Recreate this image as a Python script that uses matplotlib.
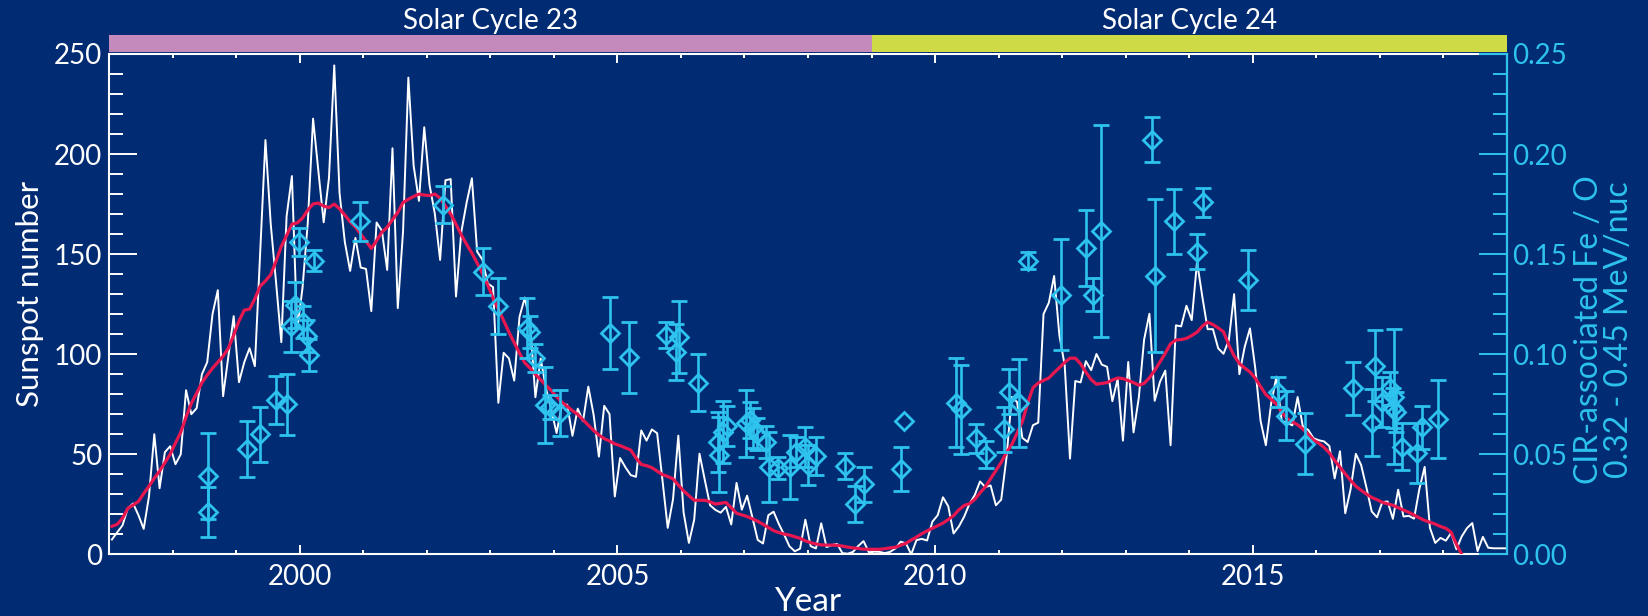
import numpy as np
import matplotlib
matplotlib.use("Agg")
import matplotlib.pyplot as plt
from matplotlib.patches import Rectangle
from matplotlib.ticker import MultipleLocator

plt.rcParams['font.family'] = ['Lato', 'DejaVu Sans']

# monthly sunspot number, Jan 1997 .. Jan 2019
ssn = [7.4, 11.0, 14.5, 23.0, 25.4, 19.6, 12.7, 29.0, 60.0, 33.0, 51.0, 54.0,
       45.0, 50.0, 82.0, 70.0, 73.0, 90.0, 96.0, 120.0, 132.0, 79.0, 99.0, 119.0,
       86.0, 96.0, 103.0, 94.0, 150.0, 207.0, 165.0, 136.0, 106.0, 169.0, 189.0, 112.0,
       133.1, 165.7, 217.7, 191.5, 165.9, 188.0, 244.3, 180.5, 156.0, 141.6, 158.1, 143.3,
       142.6, 121.5, 165.8, 161.7, 142.1, 202.9, 123.0, 161.5, 238.2, 194.1, 176.6, 213.4,
       184.6, 170.2, 147.1, 186.9, 187.5, 128.8, 161.0, 175.6, 187.9, 151.2, 147.2, 135.3,
       133.5, 75.7, 100.7, 97.9, 86.8, 118.7, 128.3, 115.4, 78.5, 97.8, 82.9, 72.2,
       60.6, 74.6, 74.8, 59.2, 72.8, 66.5, 83.8, 69.7, 48.8, 74.2, 70.1, 28.9,
       48.1, 43.5, 39.6, 38.7, 61.9, 56.8, 62.4, 60.5, 37.2, 13.2, 27.5, 59.3,
       20.9, 5.7, 17.3, 50.3, 37.2, 24.5, 22.2, 20.8, 23.7, 14.9, 35.7, 22.3,
       29.3, 18.4, 7.2, 5.4, 19.5, 21.3, 15.1, 9.8, 4.0, 1.5, 2.8, 17.3,
       4.1, 2.9, 15.5, 3.6, 4.6, 5.2, 0.6, 0.3, 1.2, 4.2, 6.6, 1.0,
       1.3, 1.2, 0.6, 1.2, 2.9, 6.3, 5.5, 0.0, 7.1, 7.7, 6.9, 16.3,
       19.5, 28.5, 24.0, 10.4, 13.9, 18.8, 25.2, 29.6, 36.4, 33.6, 34.4, 24.5,
       27.3, 48.3, 78.6, 76.1, 58.2, 56.1, 64.5, 65.8, 120.1, 125.7, 139.1, 109.3,
       94.4, 47.8, 86.6, 85.9, 96.5, 92.0, 100.1, 94.8, 93.7, 76.5, 87.6, 56.8,
       96.1, 60.9, 78.3, 107.3, 120.2, 76.7, 86.2, 91.8, 54.5, 114.4, 113.9, 124.2,
       117.0, 146.1, 128.7, 112.5, 112.5, 102.9, 100.2, 106.9, 130.0, 90.0, 103.6, 112.9,
       93.0, 66.7, 54.5, 75.3, 88.8, 66.5, 65.8, 64.4, 78.6, 63.6, 62.2, 58.0,
       57.0, 56.4, 54.1, 37.9, 51.5, 20.5, 32.4, 50.2, 44.6, 33.4, 21.4, 18.5,
       26.1, 26.4, 17.7, 32.3, 18.9, 19.2, 17.8, 32.6, 43.7, 13.2, 5.7, 8.2,
       6.8, 10.7, 2.5, 8.9, 13.1, 15.6, 1.6, 8.7, 3.3, 3.0, 3.0, 3.0,
       3.0]

# smoothed sunspot number, Jan 1997 .. Apr 2018
ssn_smooth = [14, 15, 18, 23, 24.6, 26.4, 30.4, 34, 38, 41.6, 45.8, 50,
              55.6, 61, 68.6, 75.4, 80.5, 85.8, 89.5, 93, 96, 99, 103, 109.5,
              116.6, 122, 122.5, 127.7, 134, 136.6, 139.7, 146.5, 153.9, 159.3, 165, 165.6,
              168, 172, 175.1, 175.5, 174, 173.3, 175, 172.6, 169.5, 166.2, 163.5, 160,
              156.5, 152.8, 156.7, 161, 163.4, 167.2, 170.8, 175.8, 177.4, 178.8, 180, 179.5,
              179.3, 180, 178, 174, 170, 165, 159.6, 154.9, 150.5, 145.5, 140.3, 134.5,
              128, 122.6, 116.8, 111, 105.7, 100.5, 95.7, 93, 89.9, 87.2, 84.4, 81.8,
              78.8, 76, 73.9, 71.8, 69.9, 67.2, 64.5, 61.9, 59.6, 57.8, 56.6, 55.2,
              54.3, 53.2, 52.1, 48.2, 44.9, 44.3, 43.3, 41.6, 39.8, 38.9, 37.7, 34.6,
              31.7, 29.3, 27, 27, 27, 26.2, 25.1, 25.5, 25.9, 23.3, 20.5, 19.7,
              18.9, 17.7, 16.5, 15, 13.4, 11.8, 10.9, 10.1, 9.6, 8.8, 8, 6.7,
              5.8, 5.2, 4.7, 4.6, 4.6, 4.5, 4.1, 3.6, 3.2, 2.9, 2.6, 2.5,
              2.5, 2.5, 2.8, 3.2, 3.5, 4.5, 5.5, 7.1, 8.6, 10.3, 11.7, 13,
              14.3, 15.6, 17.4, 19.3, 22.2, 24.4, 25.3, 27.4, 30.7, 33.7, 37.8, 41.9,
              45.9, 50.9, 54.8, 60.6, 66.3, 75.5, 83.2, 85.6, 86.9, 88.1, 90.8, 93.3,
              95.9, 98, 98, 95.2, 91, 87.3, 85, 85.4, 85.8, 87.1, 88.1, 87.8,
              86.8, 85.8, 84.5, 85.4, 88.2, 91.9, 96.1, 100.5, 105.2, 107.1, 107.3, 107.9,
              109.3, 111, 114, 116, 114.8, 113.1, 111.2, 104.6, 99.2, 95.3, 93.1, 91.1,
              88, 83.8, 79.8, 77.5, 75, 71.1, 67.8, 66.2, 64.7, 62.6, 60, 57.1,
              55.5, 53.4, 50.7, 46.9, 43.5, 40.2, 37, 34, 32, 30.1, 28.4, 27.3,
              26, 25.2, 24.5, 23.3, 22.1, 21, 19.6, 18.2, 16.9, 16, 15.1, 13.9,
              13, 11, 5, 0]

# CIR-associated Fe/O
fe_year = [1998.55, 1998.55, 1999.17, 1999.38, 1999.63, 1999.79, 1999.86, 1999.92,
           1999.99, 2000.05, 2000.11, 2000.14, 2000.22, 2000.94, 2002.25, 2002.89,
           2003.12, 2003.57, 2003.62, 2003.70, 2003.86, 2003.94, 2004.10, 2004.89,
           2005.18, 2005.77, 2005.92, 2005.97, 2006.27, 2006.58, 2006.60, 2006.66,
           2006.72, 2007.03, 2007.08, 2007.14, 2007.20, 2007.34, 2007.39, 2007.52,
           2007.71, 2007.81, 2007.96, 2008.00, 2008.12, 2008.59, 2008.74, 2008.88,
           2009.51, 2009.47, 2010.33, 2010.41, 2010.64, 2010.80, 2011.09, 2011.16,
           2011.32, 2011.47, 2011.98, 2012.37, 2012.48, 2012.62, 2013.42, 2013.46,
           2013.77, 2014.13, 2014.22, 2014.93, 2015.40, 2015.52, 2015.83, 2016.58,
           2016.88, 2016.92, 2017.04, 2017.17, 2017.21, 2017.23, 2017.25, 2017.35,
           2017.59, 2017.66, 2017.92]
fe_o = [0.039, 0.021, 0.0525, 0.060, 0.077, 0.075, 0.114, 0.1247,
        0.1563, 0.1163, 0.109, 0.0997, 0.1467, 0.1663, 0.1747, 0.1413,
        0.1243, 0.113, 0.111, 0.098, 0.0747, 0.0737, 0.0705, 0.1105,
        0.0985, 0.1097, 0.1013, 0.1088, 0.0858, 0.0563, 0.0497, 0.0613,
        0.064, 0.0655, 0.067, 0.063, 0.060, 0.0563, 0.0438, 0.043,
        0.0438, 0.0513, 0.0538, 0.0447, 0.0492, 0.0442, 0.0252, 0.035,
        0.0668, 0.0425, 0.0758, 0.0725, 0.058, 0.0497, 0.0625, 0.0813,
        0.0755, 0.1467, 0.1297, 0.153, 0.1297, 0.1617, 0.2072, 0.1392,
        0.1663, 0.1513, 0.1758, 0.1372, 0.0813, 0.0692, 0.0552, 0.083,
        0.0658, 0.0942, 0.0763, 0.083, 0.073, 0.0788, 0.0713, 0.0538,
        0.0505, 0.0635, 0.0675]
fe_err = [0.0215, 0.0125, 0.014, 0.0137, 0.012, 0.0152, 0.0128, 0.0116,
          0.007, 0.008, 0.008, 0.008, 0.0053, 0.0098, 0.0092, 0.0118,
          0.014, 0.015, 0.008, 0.0071, 0.019, 0.006, 0.0115, 0.018,
          0.0177, 0.0064, 0.014, 0.018, 0.0144, 0.015, 0.0187, 0.0155,
          0.010, 0.0167, 0.009, 0.010, 0.008, 0.008, 0.0175, 0.0055,
          0.016, 0.0075, 0.010, 0.010, 0.0094, 0.0065, 0.009, 0.0087,
          np.nan, 0.011, 0.0222, 0.0222, 0.0072, 0.0067, 0.0112, 0.0112,
          0.022, 0.0043, 0.0277, 0.0188, 0.0083, 0.053, 0.0113, 0.0383,
          0.0163, 0.0086, 0.0073, 0.015, 0.0075, 0.0123, 0.0152, 0.0133,
          0.0167, 0.0177, 0.0125, 0.0083, 0.010, 0.0337, 0.010, 0.0117,
          0.015, 0.0107, 0.0195]

cycle_edges = [1997, 2009, 2019]
cycle_names = ["Solar Cycle 23", "Solar Cycle 24"]

bg = '#012b72'
cyan = '#2dc3ee'
red = '#e8174f'
band_cols = ['#c58abc', '#cfdb46']

fig = plt.figure(figsize=(16.49, 6.16), dpi=100, facecolor=bg)
ax = fig.add_axes([0.06628, 0.10016, 0.84742, 0.81218])
ax.set_facecolor(bg)

t_ssn = 1997 + (np.arange(len(ssn)) + 0.5) / 12
t_sm = 1997 + (np.arange(len(ssn_smooth)) + 0.5) / 12
ax.plot(t_ssn, ssn, color='white', lw=1.4, zorder=2)
ax.plot(t_sm, ssn_smooth, color=red, lw=2.3, zorder=3)

ax.set_xlim(1997, 2019)
ax.set_ylim(0, 250)
ax.xaxis.set_major_locator(MultipleLocator(5))
ax.xaxis.set_minor_locator(MultipleLocator(1))
ax.yaxis.set_major_locator(MultipleLocator(50))
ax.yaxis.set_minor_locator(MultipleLocator(10))
ax.tick_params(axis='x', which='both', direction='in', top=True, colors='white',
               labelsize=20, pad=7, width=1.4)
ax.tick_params(axis='x', which='major', length=6.5)
ax.tick_params(axis='x', which='minor', length=3.2)
ax.tick_params(axis='y', which='both', direction='in', right=False, colors='white',
               labelsize=20, pad=5, width=1.4)
ax.tick_params(axis='y', which='major', length=20)
ax.tick_params(axis='y', which='minor', length=10)
for s in ax.spines.values():
    s.set_color('white')
    s.set_linewidth(1.5)
ax.set_xlabel("Year", color='white', fontsize=24, labelpad=-2)
ax.set_ylabel("Sunspot number", color='white', fontsize=22.5)
ax.yaxis.set_label_coords(-0.047, 0.52)

# solar cycle bands above the plot
for i, name in enumerate(cycle_names):
    x0, x1 = cycle_edges[i], cycle_edges[i + 1]
    ax.add_patch(Rectangle((x0, 1.004), x1 - x0, 0.034, transform=ax.get_xaxis_transform(),
                           facecolor=band_cols[i], edgecolor='none', clip_on=False))
    ax.text((x0 + x1) / 2, 1.066, name, transform=ax.get_xaxis_transform(),
            ha='center', va='center', color='white', fontsize=20)

ax2 = ax.twinx()
ax2.errorbar(fe_year, fe_o, yerr=fe_err, fmt='D', ms=9.5, mfc='none', mec=cyan, mew=2.0,
             ecolor=cyan, elinewidth=1.9, capsize=5.5, capthick=1.9, color=cyan, zorder=4)
ax2.set_ylim(0, 0.25)
ax2.yaxis.set_major_locator(MultipleLocator(0.05))
ax2.yaxis.set_minor_locator(MultipleLocator(0.01))
ax2.yaxis.set_major_formatter(matplotlib.ticker.FormatStrFormatter('%.2f'))
ax2.tick_params(axis='y', which='both', direction='in', colors=cyan, labelsize=20,
                pad=4, width=1.4)
ax2.tick_params(axis='y', which='major', length=20)
ax2.tick_params(axis='y', which='minor', length=10)
for k, s in ax2.spines.items():
    s.set_visible(k == 'right')
ax2.spines['right'].set_color(cyan)
ax2.spines['right'].set_linewidth(1.5)
ax2.text(1.0695, 0.45, "CIR-associated Fe / O\n0.32 - 0.45 MeV/nuc", transform=ax2.transAxes,
         rotation=90, ha='center', va='center', multialignment='center',
         color=cyan, fontsize=23, linespacing=1.0)

fig.savefig("out.png", dpi=100, facecolor=bg)
